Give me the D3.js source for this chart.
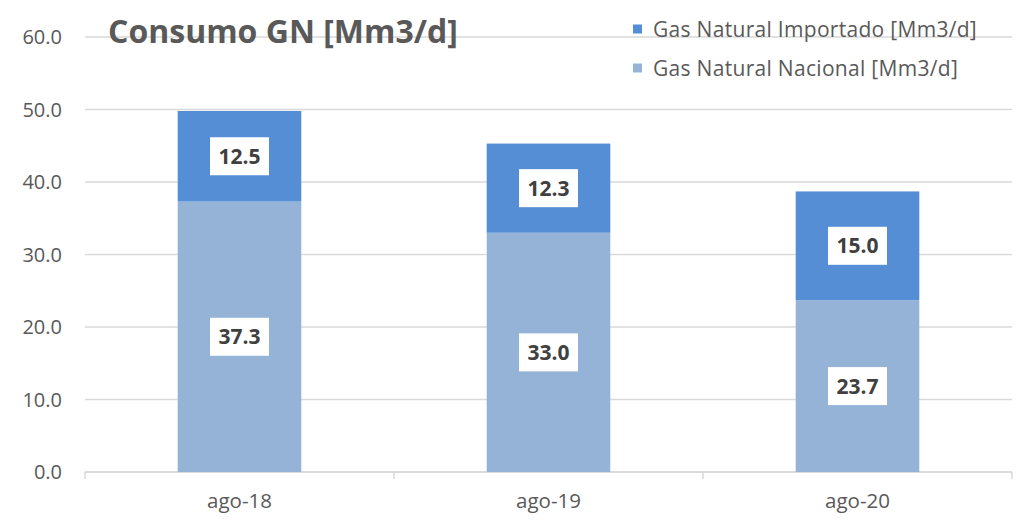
<!DOCTYPE html>
<html>
<head>
<meta charset="utf-8">
<script src="https://cdn.jsdelivr.net/npm/d3@7"></script>
<style>
  body { margin: 0; background: #fff; }
  text { font-family: "Open Sans", "Noto Sans", sans-serif; }
</style>
</head>
<body>
<script>
// datos del grafico
var categorias = ['ago-18', 'ago-19', 'ago-20'];
var nacional = [37.3, 33.0, 23.7];
var importado = [12.5, 12.3, 15.0];
var series = ['Gas Natural Importado [Mm3/d]', 'Gas Natural Nacional [Mm3/d]'];
var ticksY = [0, 10, 20, 30, 40, 50, 60];

var ancho = 1025, alto = 527;
var izq = 85, der = 1012, arriba = 37, abajo = 472;
var gris = '#595959';

var svg = d3.select('body').append('svg')
  .attr('width', ancho)
  .attr('height', alto);

var x = d3.scaleBand().domain(categorias).range([izq, der]);
var y = d3.scaleLinear().domain([0, 60]).range([abajo, arriba]);

// lineas de la grilla
svg.selectAll('line.grid')
  .data(ticksY)
  .enter().append('line')
  .attr('class', 'grid')
  .attr('x1', izq).attr('x2', der)
  .attr('y1', function(d){ return y(d); })
  .attr('y2', function(d){ return y(d); })
  .attr('stroke', '#d9d9d9')
  .attr('stroke-width', 1.5);

// eje y (solo etiquetas)
svg.selectAll('text.ytick')
  .data(ticksY)
  .enter().append('text')
  .attr('class', 'ytick')
  .attr('x', 62)
  .attr('y', function(d){ return y(d); })
  .attr('dy', '0.36em')
  .attr('text-anchor', 'end')
  .attr('font-size', 20)
  .attr('fill', gris)
  .text(function(d){ return d.toFixed(1); });

// eje x
var ejeX = svg.append('g')
  .attr('transform', 'translate(0,' + abajo + ')')
  .call(d3.axisBottom(x).tickSize(0).tickPadding(21));
ejeX.select('.domain').remove();
ejeX.selectAll('text').attr('font-size', 20.5).attr('fill', gris)
  .style('font-family', '"Open Sans", sans-serif');

svg.append('line')
  .attr('x1', izq).attr('x2', der)
  .attr('y1', abajo).attr('y2', abajo)
  .attr('stroke', '#d9d9d9').attr('stroke-width', 1.5);

var bordes = [izq].concat(categorias.map(function(c){ return x(c) + x.bandwidth(); }));
svg.selectAll('line.xtick')
  .data(bordes)
  .enter().append('line')
  .attr('x1', function(d){ return d; })
  .attr('x2', function(d){ return d; })
  .attr('y1', abajo).attr('y2', abajo + 7)
  .attr('stroke', '#d9d9d9').attr('stroke-width', 1.5);

// barras apiladas
var anchoBarra = x.bandwidth() * 0.4;
var datos = categorias.map(function(c, i){
  return {cat: c, nac: nacional[i], imp: importado[i]};
});
var colores = {imp: '#558ed5', nac: '#95b3d7'};

var grupos = svg.selectAll('g.barra')
  .data(datos)
  .enter().append('g')
  .attr('class', 'barra');

grupos.append('rect')
  .attr('x', function(d){ return x(d.cat) + (x.bandwidth() - anchoBarra) / 2; })
  .attr('y', function(d){ return y(d.nac); })
  .attr('width', anchoBarra)
  .attr('height', function(d){ return y(0) - y(d.nac); })
  .attr('fill', colores.nac);

grupos.append('rect')
  .attr('x', function(d){ return x(d.cat) + (x.bandwidth() - anchoBarra) / 2; })
  .attr('y', function(d){ return y(d.nac + d.imp); })
  .attr('width', anchoBarra)
  .attr('height', function(d){ return y(d.nac) - y(d.nac + d.imp); })
  .attr('fill', colores.imp);

// etiquetas con caja blanca
function etiqueta(g, valor, centroY, cx) {
  g.append('rect')
    .attr('x', cx - 29.5).attr('y', centroY - 19)
    .attr('width', 59).attr('height', 38)
    .attr('fill', '#fff');
  g.append('text')
    .attr('x', cx).attr('y', centroY)
    .attr('dy', '0.36em')
    .attr('text-anchor', 'middle')
    .attr('font-size', 21)
    .attr('font-weight', 'bold')
    .attr('fill', '#404040')
    .text(valor.toFixed(1));
}
grupos.each(function(d){
  var g = d3.select(this);
  var cx = x(d.cat) + x.bandwidth() / 2;
  etiqueta(g, d.nac, y(d.nac / 2), cx);
  etiqueta(g, d.imp, y(d.nac + d.imp / 2), cx);
});

// titulo
svg.append('text')
  .attr('x', 108).attr('y', 43)
  .attr('font-size', 32)
  .attr('font-weight', 'bold')
  .attr('fill', gris)
  .text('Consumo GN [Mm3/d]');

// leyenda
var leyenda = svg.selectAll('g.ley')
  .data(series)
  .enter().append('g')
  .attr('class', 'ley')
  .attr('transform', function(d, i){ return 'translate(633,' + (29 + i * 39) + ')'; });
leyenda.append('rect')
  .attr('x', 0).attr('y', -4.5)
  .attr('width', 9).attr('height', 9)
  .attr('fill', function(d, i){ return i === 0 ? colores.imp : colores.nac; });
leyenda.append('text')
  .attr('x', 20).attr('y', 0)
  .attr('dy', '0.36em')
  .attr('font-size', 21)
  .attr('letter-spacing', 0.3)
  .attr('fill', gris)
  .text(function(d){ return d; });
</script>
</body>
</html>
